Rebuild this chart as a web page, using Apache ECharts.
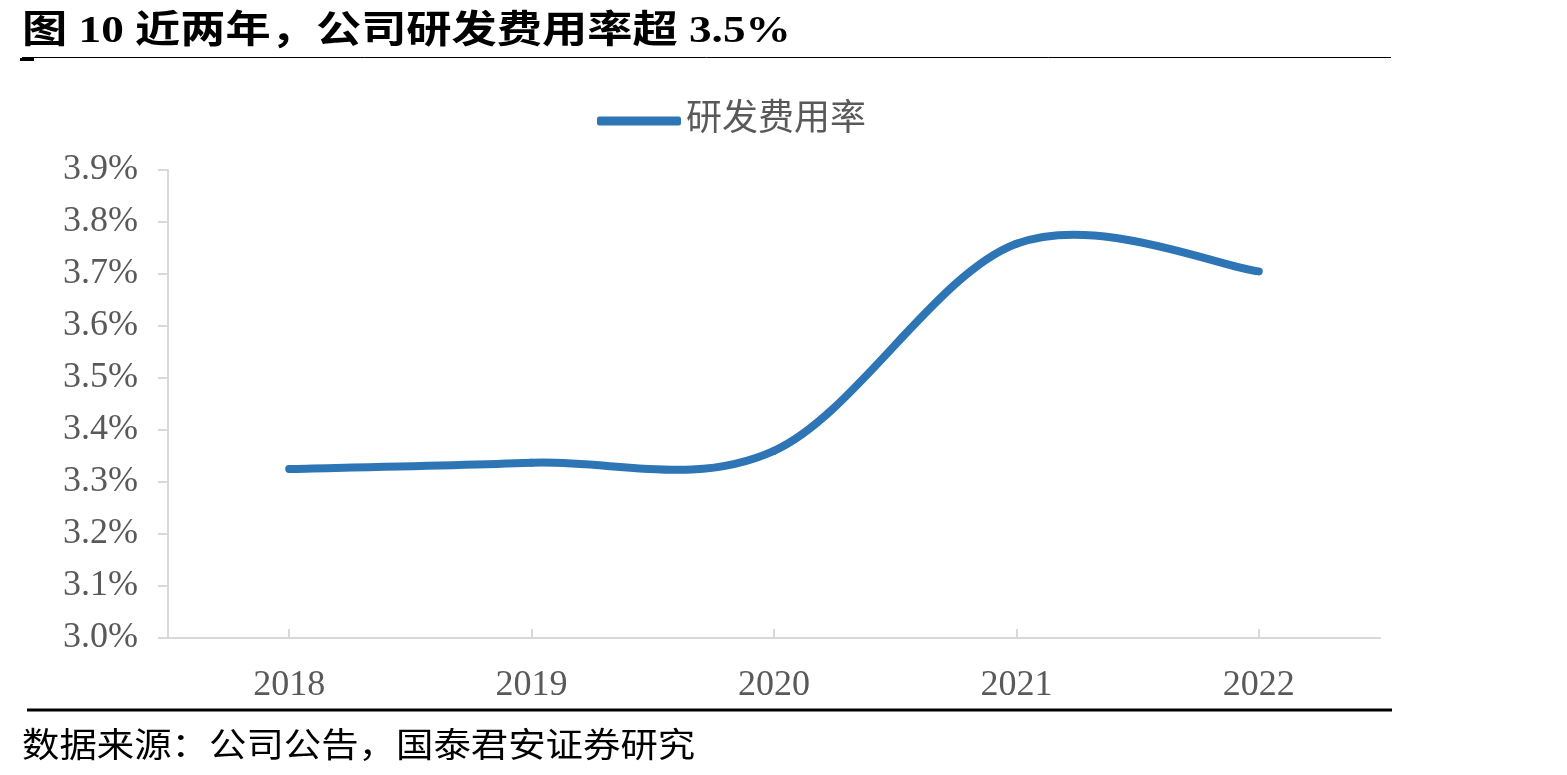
<!DOCTYPE html>
<html>
<head>
<meta charset="utf-8">
<script src="https://cdn.jsdelivr.net/npm/echarts@6/dist/echarts.min.js"></script>
<style>
  html, body { margin: 0; padding: 0; background: #fff; }
  #chart { width: 1567px; height: 775px; }
</style>
</head>
<body>
<div id="chart"></div>
<script>
// data
const years = ["2018", "2019", "2020", "2021", "2022"];
const rdRate = [3.325, 3.337, 3.36, 3.758, 3.705];
const seriesName = "研发费用率";

const lineColor = "#2E75B6";
const serifFont = '"Liberation Serif", "Noto Sans CJK SC", serif';
const cjkFont = '"Liberation Serif", "Noto Sans CJK SC", sans-serif';

const chart = echarts.init(document.getElementById("chart"));

// Excel-like smoothed line: Catmull-Rom through the points mapped by the axes
function renderSmoothLine(params, api) {
  if (params.dataIndex !== 0) return null;
  const pts = rdRate.map((v, i) => api.coord([i, v]));
  const n = pts.length;
  const children = [];
  for (let i = 0; i < n - 1; i++) {
    const p0 = pts[Math.max(i - 1, 0)];
    const p1 = pts[i];
    const p2 = pts[i + 1];
    const p3 = pts[Math.min(i + 2, n - 1)];
    children.push({
      type: "bezierCurve",
      shape: {
        x1: p1[0], y1: p1[1],
        x2: p2[0], y2: p2[1],
        cpx1: p1[0] + (p2[0] - p0[0]) / 6,
        cpy1: p1[1] + (p2[1] - p0[1]) / 6,
        cpx2: p2[0] - (p3[0] - p1[0]) / 6,
        cpy2: p2[1] - (p3[1] - p1[1]) / 6
      },
      style: { stroke: lineColor, lineWidth: 8, lineCap: "round", fill: null }
    });
  }
  return { type: "group", children: children };
}

const option = {
  backgroundColor: "#fff",
  animation: false,
  legend: {
    data: [seriesName],
    left: 592,
    top: 98,
    itemWidth: 84,
    itemHeight: 9,
    itemGap: 8,
    icon: "roundRect",
    itemStyle: { color: lineColor },
    textStyle: { fontFamily: cjkFont, fontSize: 36, color: "#595959" }
  },
  grid: { left: 168, right: 187, top: 170, bottom: 137 },
  xAxis: {
    type: "category",
    data: years,
    boundaryGap: true,
    axisLine: { lineStyle: { color: "#d9d9d9", width: 2 } },
    axisTick: { show: true, alignWithLabel: true, inside: true, length: 9, lineStyle: { color: "#d9d9d9", width: 2 } },
    axisLabel: { fontFamily: serifFont, fontSize: 36, color: "#595959", margin: 30 }
  },
  yAxis: {
    type: "value",
    min: 3.0,
    max: 3.9,
    interval: 0.1,
    splitLine: { show: false },
    axisLine: { show: true, lineStyle: { color: "#d9d9d9", width: 2 } },
    axisTick: { show: true, length: 10, lineStyle: { color: "#d9d9d9", width: 2 } },
    axisLabel: {
      fontFamily: serifFont, fontSize: 36, color: "#595959", margin: 30,
      formatter: v => v.toFixed(1) + "%"
    }
  },
  series: [{
    name: seriesName,
    type: "custom",
    data: rdRate.map((v, i) => [i, v]),
    encode: { x: 0, y: 1 },
    renderItem: renderSmoothLine,
    itemStyle: { color: lineColor }
  }],
  graphic: [
    {
      type: "text", left: 22, top: 13, scaleX: 1.19, originX: 0,
      style: {
        text: "图 10 近两年，公司研发费用率超 3.5%",
        font: 'bold 38px "Liberation Serif", "Noto Sans CJK SC", serif',
        fill: "#000"
      }
    },
    { type: "line", shape: { x1: 22, y1: 57.5, x2: 1391, y2: 57.5 }, style: { stroke: "#000", lineWidth: 1 } },
    { type: "rect", shape: { x: 20, y: 58, width: 14, height: 3 }, style: { fill: "#000" } },
    { type: "line", shape: { x1: 27, y1: 710, x2: 1392, y2: 710 }, style: { stroke: "#000", lineWidth: 3 } },
    {
      type: "text", left: 22, top: 727, scaleX: 1.1, originX: 0,
      style: { text: "数据来源：公司公告，国泰君安证券研究", font: '34px "Noto Sans CJK SC", serif', fill: "#000" }
    }
  ]
};

chart.setOption(option);
</script>
</body>
</html>
